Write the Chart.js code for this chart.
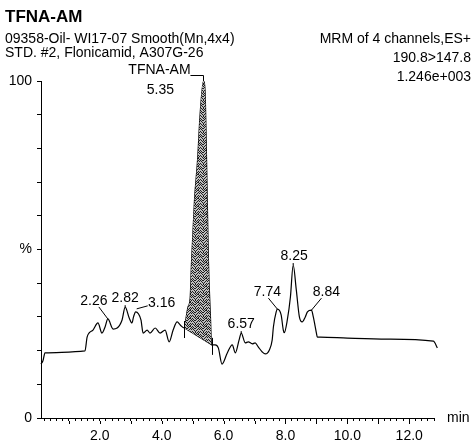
<!DOCTYPE html>
<html>
<head>
<meta charset="utf-8">
<title>TFNA-AM</title>
<script src="https://cdn.jsdelivr.net/npm/chart.js@4.4.1/dist/chart.umd.min.js"></script>
<style>
  html, body { margin: 0; padding: 0; background: #fff; }
  #wrap { position: relative; width: 472px; height: 442px; }
</style>
</head>
<body>
<div id="wrap"><canvas id="chromChart" width="472" height="442"></canvas></div>
<script>
// MRM trace 190.8>147.8 : retention time (min) / relative intensity (%)
const traceTimes = [
    0.10, 0.16, 0.23, 1.52, 1.59, 1.65, 1.78, 1.94, 2.07, 2.17,
    2.26, 2.43, 2.56, 2.72, 2.82, 2.95, 3.04, 3.09, 3.16, 3.33,
    3.40, 3.53, 3.62, 3.79, 3.95, 4.11, 4.24, 4.37, 4.50, 4.60,
    4.73, 4.76, 4.85, 4.92, 4.96, 5.06, 5.16, 5.24, 5.35, 5.40,
    5.45, 5.51, 5.58, 5.61, 5.73, 5.83, 5.95, 6.12, 6.28, 6.38,
    6.50, 6.57, 6.70, 6.80, 6.93, 7.02, 7.12, 7.25, 7.35, 7.48,
    7.57, 7.61, 7.70, 7.74, 7.86, 7.93, 7.96, 8.06, 8.16, 8.25,
    8.35, 8.45, 8.54, 8.64, 8.71, 8.84, 8.90, 9.00, 9.03, 9.13,
    10.00, 11.29, 12.78, 12.91
];
const traceValues = [
    16.0, 16.9, 19.3, 19.9, 24.0, 25.2, 26.1, 28.2, 25.2, 27.0,
    29.4, 26.4, 26.7, 29.1, 32.9, 29.7, 28.2, 30.0, 31.5, 29.1,
    25.2, 26.1, 25.2, 26.7, 25.2, 26.1, 22.6, 26.1, 28.5, 27.6,
    26.7, 28.2, 32.9, 35.6, 45.4, 64.7, 76.6, 89.9, 100.0, 97.3,
    76.6, 46.9, 29.1, 21.7, 21.7, 20.8, 16.0, 19.3, 21.7, 19.3,
    23.1, 25.2, 22.3, 22.6, 22.0, 22.3, 21.1, 19.6, 19.0, 20.2,
    23.1, 27.0, 31.5, 32.3, 30.6, 26.1, 25.3, 29.1, 35.9, 45.4,
    38.0, 30.0, 28.5, 30.0, 31.5, 32.0, 30.0, 25.2, 24.0, 24.0,
    23.7, 23.4, 22.8, 20.8
];

// labelled apexes
const peakTimes = [2.26, 2.82, 3.16, 5.35, 6.57, 7.74, 8.25, 8.84];
const compoundName = 'TFNA-AM';
const compoundTime = 5.35;

// integration baseline of the compound peak
const baselineTimes = [4.73, 5.61];
const baselineValues = [26.7, 21.7];

const xTickLabels = ['2.0', '4.0', '6.0', '8.0', '10.0', '12.0'];
const yTickLabels = { 0: '0', 50: '%', 100: '100' };

const headerTitle = 'TFNA-AM';
const headerLeft = ['09358-Oil- WI17-07 Smooth(Mn,4x4)', 'STD. #2, Flonicamid, A307G-26'];
const headerRight = ['MRM of 4 channels,ES+', '190.8>147.8', '1.246e+003'];
const xUnit = 'min';

const FONT = "'Liberation Sans', Arial, Helvetica, sans-serif";
Chart.defaults.font.family = FONT;
Chart.defaults.font.size = 14;
Chart.defaults.color = '#000';

// label placement around each apex (px): text centre and leader start
const labelLayout = {
    '2.26': { dx: -14, dy: -18, lx: -9, ly: -12 },
    '2.82': { dx: 0, dy: -9, lx: 0, ly: -2 },
    '3.16': { dx: 26, dy: -9, lx: 12, ly: -6, ex: 1, ey: -3 },
    '6.57': { dx: 0, dy: -9, lx: 0, ly: -2 },
    '7.74': { dx: -10, dy: -17, lx: -9, ly: -11 },
    '8.25': { dx: 1, dy: -9, lx: 0, ly: -2 },
    '8.84': { dx: 15, dy: -18, lx: 10, ly: -12 }
};

function tracePoints(from, to) {
    const pts = [];
    traceTimes.forEach((t, i) => {
        if (t >= from && t <= to) pts.push({ x: t, y: traceValues[i] });
    });
    return pts;
}

function valueAt(t) {
    const i = traceTimes.findIndex(v => Math.abs(v - t) < 1e-6);
    return traceValues[i];
}

// grey stipple used for the integrated area (fixed dot layout, 8x8 tile)
const stippleDots = [
    [0, 0], [3, 0], [6, 0], [1, 1], [5, 1], [7, 1], [2, 2], [4, 2],
    [0, 3], [3, 3], [6, 3], [1, 4], [5, 4], [7, 4], [2, 5], [4, 5],
    [0, 6], [3, 6], [6, 6], [1, 7], [4, 7], [7, 7], [5, 6], [2, 0],
    [6, 5], [3, 4]
];
function stipple() {
    const c = document.createElement('canvas');
    c.width = 8;
    c.height = 8;
    const g = c.getContext('2d');
    g.fillStyle = '#bdbdbd';
    g.fillRect(0, 0, 8, 8);
    g.fillStyle = '#1e1e1e';
    stippleDots.forEach(([px, py]) => g.fillRect(px, py, 1, 1));
    return g.createPattern(c, 'repeat');
}

const annotate = {
    id: 'annotate',
    afterDatasetsDraw(chart) {
        const { ctx, scales: { x, y } } = chart;
        ctx.save();
        ctx.strokeStyle = '#000';
        ctx.fillStyle = '#000';
        ctx.lineWidth = 1;
        ctx.font = '14px ' + FONT;
        ctx.textAlign = 'center';
        ctx.textBaseline = 'middle';

        // integration markers at both baseline ends
        baselineTimes.forEach((t, i) => {
            const px = Math.round(x.getPixelForValue(t)) + 0.5;
            const py = y.getPixelForValue(baselineValues[i]);
            ctx.beginPath();
            ctx.moveTo(px, py - 7);
            ctx.lineTo(px, py + 10);
            ctx.stroke();
        });

        peakTimes.forEach(t => {
            const px = x.getPixelForValue(t);
            const py = y.getPixelForValue(valueAt(t));
            const label = t.toFixed(2);
            if (t === compoundTime) {
                const ax = Math.round(px) + 0.5;
                const ly = Math.round(py) - 5.5;
                ctx.fillText(compoundName, px - 44, py - 11);
                ctx.fillText(label, px - 43, py + 9);
                ctx.beginPath();
                ctx.moveTo(px - 13, ly);
                ctx.lineTo(ax, ly);
                ctx.lineTo(ax, py);
                ctx.stroke();
                return;
            }
            const L = labelLayout[label];
            ctx.fillText(label, px + L.dx, py + L.dy);
            ctx.beginPath();
            ctx.moveTo(px + L.lx, py + L.ly);
            ctx.lineTo(px + (L.ex || 0), py + (L.ey || 0));
            ctx.stroke();
        });

        // longer ticks on whole minutes
        ctx.beginPath();
        for (let m = 1; m <= 12; m++) {
            const px = Math.round(x.getPixelForValue(m)) + 0.5;
            ctx.moveTo(px, chart.chartArea.bottom + 3);
            ctx.lineTo(px, chart.chartArea.bottom + 6);
        }
        ctx.stroke();
        ctx.restore();
    },
    afterDraw(chart) {
        const { ctx, chartArea } = chart;
        ctx.save();
        ctx.fillStyle = '#000';
        ctx.textBaseline = 'middle';
        ctx.font = 'bold 17px ' + FONT;
        ctx.textAlign = 'left';
        ctx.fillText(headerTitle, 5, 17);
        ctx.font = '14px ' + FONT;
        headerLeft.forEach((s, i) => ctx.fillText(s, 5, 39 + i * 14));
        ctx.textAlign = 'right';
        headerRight.forEach((s, i) => ctx.fillText(s, 471, 39 + i * 19));
        ctx.textAlign = 'left';
        ctx.fillText(xUnit, 447, chartArea.bottom);
        ctx.restore();
    }
};

const chart = new Chart(document.getElementById('chromChart'), {
    type: 'line',
    data: {
        datasets: [
            {
                // integrated compound peak, filled down to the baseline
                data: tracePoints(baselineTimes[0], baselineTimes[1]),
                borderWidth: 0,
                pointRadius: 0,
                cubicInterpolationMode: 'monotone',
                backgroundColor: stipple(),
                fill: { target: 2 }
            },
            {
                data: traceTimes.map((t, i) => ({ x: t, y: traceValues[i] })),
                borderColor: '#000',
                borderWidth: 1.2,
                pointRadius: 0,
                cubicInterpolationMode: 'monotone',
                fill: false,
                clip: false
            },
            {
                data: baselineTimes.map((t, i) => ({ x: t, y: baselineValues[i] })),
                borderColor: '#000',
                borderWidth: 1,
                pointRadius: 0,
                fill: false
            }
        ]
    },
    options: {
        responsive: false,
        animation: false,
        devicePixelRatio: 1,
        layout: { padding: { top: 81, right: 38, bottom: 0, left: 5 } },
        plugins: {
            legend: { display: false },
            tooltip: { enabled: false }
        },
        scales: {
            x: {
                type: 'linear',
                min: 0.1,
                max: 12.8,
                border: { color: '#000', width: 1 },
                grid: { drawOnChartArea: false, drawTicks: true, tickLength: 3, tickColor: '#000' },
                ticks: {
                    stepSize: 0.2,
                    autoSkip: false,
                    includeBounds: false,
                    maxRotation: 0,
                    padding: 7,
                    callback: v => xTickLabels.includes(v.toFixed(1)) && Math.abs(v - Math.round(v)) < 1e-6 ? v.toFixed(1) : ''
                },
                afterFit: s => { s.height = 24; }
            },
            y: {
                min: 0,
                max: 100,
                border: { color: '#000', width: 1 },
                grid: { drawOnChartArea: false, drawTicks: true, tickLength: 4, tickColor: '#000' },
                ticks: {
                    stepSize: 10,
                    autoSkip: false,
                    padding: 5,
                    callback: v => yTickLabels[v] ?? ''
                },
                afterFit: s => { s.width = 36; }
            }
        }
    },
    plugins: [annotate]
});
</script>
</body>
</html>
